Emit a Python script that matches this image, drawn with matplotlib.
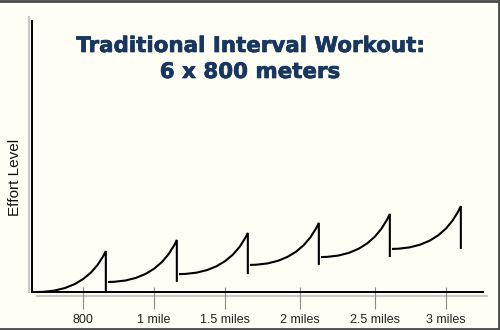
import matplotlib
matplotlib.use("Agg")
import matplotlib.pyplot as plt
import matplotlib.patheffects as pe
from matplotlib.path import Path
from matplotlib.patches import PathPatch
from matplotlib.lines import Line2D

# Interval data: distance position (in rep units) and effort level (0-100)
rep_start = [0.07, 1.07, 2.07, 3.07, 4.07, 5.07]
rep_end = [1.04, 2.04, 3.04, 4.04, 5.04, 6.04]
start_effort = [0.0, 3.7, 6.6, 10.0, 12.9, 15.9]
peak_effort = [15.1, 19.2, 21.8, 25.5, 28.8, 31.7]

tick_pos = [0.72, 1.72, 2.72, 3.77, 4.83, 5.83]
tick_labels = ["800", "1 mile", "1.5 miles", "2 miles", "2.5 miles", "3 miles"]

title_lines = ["Traditional Interval Workout:", "6 x 800 meters"]

W, H = 500, 330
bg = "#FEFEF4"
fig = plt.figure(figsize=(W / 100, H / 100), dpi=100, facecolor=bg)

ax_l, ax_b, ax_w, ax_h = 32, 38, 451, 271
ax = fig.add_axes([ax_l / W, ax_b / H, ax_w / W, ax_h / H])
ax.set_facecolor(bg)
ax.set_xlim(0, ax_w / 71)
ax.set_ylim(0, 100)

for s in ("top", "right"):
    ax.spines[s].set_visible(False)
for s in ("left", "bottom"):
    ax.spines[s].set_color("black")
    ax.spines[s].set_linewidth(1.4)

# soft offset shadow behind the axis lines
ax.add_line(Line2D([-3 / ax_w, -3 / ax_w], [0, 1 + 4 / ax_h], transform=ax.transAxes,
                   color="#c8c8c4", lw=1.5, clip_on=False, zorder=0))
ax.add_line(Line2D([5 / ax_w, 455 / ax_w], [-3.5 / ax_h, -3.5 / ax_h], transform=ax.transAxes,
                   color="#c8c8c4", lw=1.5, clip_on=False, zorder=0))

# each rep: effort builds gradually then sharply, then drops at the end
for x0, x1, y0, y1 in zip(rep_start, rep_end, start_effort, peak_effort):
    verts = [(x0, y0), (x0 + 0.72 * (x1 - x0), y0), (x1, y1), (x1, y0)]
    codes = [Path.MOVETO, Path.CURVE3, Path.CURVE3, Path.LINETO]
    ax.add_patch(PathPatch(Path(verts, codes), fill=False, ec="black", lw=1.5,
                           joinstyle="miter", clip_on=False))

ax.set_yticks([])
ax.set_xticks(tick_pos, tick_labels)
ax.tick_params(axis="x", length=0, pad=16, labelsize=9, labelcolor="#222222")
for lab in ax.get_xticklabels():
    lab.set_fontfamily("Liberation Sans")
ax.vlines(tick_pos, -17 / ax_h, 5 / ax_h, transform=ax.get_xaxis_transform(),
          colors="#8a8a8a", lw=0.8, clip_on=False)

fig.text(15 / W, 1 - 177 / H, "Effort Level", rotation=90, ha="center", va="center",
         fontsize=11, family="Liberation Sans", color="#111111")

navy = "#173761"
heavy = [pe.withStroke(linewidth=0.5, foreground=navy)]
fig.text(250 / W, 1 - 52 / H, title_lines[0], ha="center", va="baseline",
         fontsize=15.4, fontweight="bold", family="DejaVu Sans", color=navy,
         path_effects=heavy)
fig.text(250 / W, 1 - 78 / H, title_lines[1], ha="center", va="baseline",
         fontsize=15.4, fontweight="bold", family="DejaVu Sans", color=navy,
         path_effects=heavy)

# frame around the figure
for xs, ys in (([0, 1], [1 - 1 / H, 1 - 1 / H]),
               ([1 - 1.5 / W, 1 - 1.5 / W], [0, 1]),
               ([0, 1], [1.5 / H, 1.5 / H])):
    fig.add_artist(Line2D(xs, ys, transform=fig.transFigure, color="#4a4a4a", lw=2))

fig.savefig("out.png", dpi=100, facecolor=bg)
